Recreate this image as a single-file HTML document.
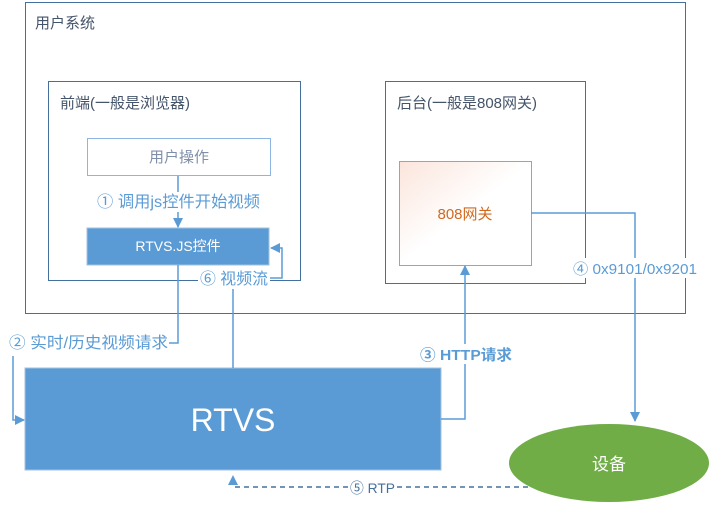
<!DOCTYPE html>
<html><head><meta charset="utf-8"><style>
body{margin:0;background:#fff;}
svg text{font-family:"Liberation Sans","Noto Sans CJK SC",sans-serif;}
</style></head><body>
<svg width="716" height="513" viewBox="0 0 716 513" xmlns="http://www.w3.org/2000/svg">
<defs>
<linearGradient id="g" x1="0" y1="0" x2="1" y2="1"><stop offset="0" stop-color="#fbe5dc"/><stop offset="0.5" stop-color="#fff"/></linearGradient>
<marker id="a" markerWidth="10" markerHeight="10" refX="9" refY="5" orient="auto" markerUnits="userSpaceOnUse"><path d="M0,0L10,5L0,10z" fill="#5b9bd5"/></marker>
</defs>
<rect x="25.5" y="2.5" width="660" height="311" fill="#fff" stroke="#44709d"/>
<text x="35" y="28" font-size="15" fill="#44546a">用户系统</text>
<rect x="48.5" y="81.5" width="252" height="199" fill="#fff" stroke="#44709d"/>
<text x="60" y="108" font-size="15" fill="#44546a">前端(一般是浏览器)</text>
<rect x="385.5" y="81.5" width="200" height="202" fill="#fff" stroke="#44709d"/>
<text x="397" y="108" font-size="15" fill="#44546a">后台(一般是808网关)</text>
<rect x="87.5" y="138.5" width="183" height="37" fill="#fff" stroke="#8eb4e3"/>
<text x="179" y="162" font-size="15" fill="#7f8fa9" text-anchor="middle">用户操作</text>
<rect x="87" y="228" width="182" height="37" fill="#5b9bd5" stroke="#a0c0e0"/>
<text x="178" y="251" font-size="14" fill="#fff" text-anchor="middle">RTVS.JS控件</text>
<rect x="399.5" y="161.5" width="132" height="104" fill="url(#g)" stroke="#e0915a"/>
<text x="465" y="219" font-size="15" fill="#d2691e" text-anchor="middle">808网关</text>
<rect x="25" y="368" width="416" height="102" fill="#5b9bd5" stroke="#a0c0e0"/>
<text x="233" y="431" font-size="32" fill="#fff" text-anchor="middle">RTVS</text>
<ellipse cx="609" cy="463" rx="100" ry="39" fill="#70ad47"/>
<text x="609" y="470" font-size="17" fill="#fff" text-anchor="middle">设备</text>
<g stroke="#5b9bd5" stroke-width="1.5" fill="none">
<path d="M178 176V192M178 212V227" marker-end="url(#a)"/>
<path d="M178 265V343H169"/>
<path d="M13 356V420H24" marker-end="url(#a)"/>
<path d="M233 368V289"/>
<path d="M269 278H282V248H271" marker-end="url(#a)"/>
<path d="M441 419H465V266" marker-end="url(#a)"/>
<path d="M531 213H635V421" marker-end="url(#a)"/>
<path d="M528 487H233V476" stroke-dasharray="5,4" stroke="#44709d" marker-end="url(#a)"/>
</g>
<g fill="#fff">
<rect x="198" y="270" width="72" height="18"/>
<rect x="418" y="344" width="96" height="20"/>
<rect x="571" y="258" width="128" height="20"/>
<rect x="348" y="479" width="48" height="18"/>
</g>
<text x="97" y="207" font-size="16" fill="#5b9bd5" textLength="163" lengthAdjust="spacingAndGlyphs">① 调用js控件开始视频</text>
<text x="9" y="348" font-size="16" fill="#5b9bd5" textLength="159" lengthAdjust="spacingAndGlyphs">② 实时/历史视频请求</text>
<text x="200" y="284" font-size="16" fill="#5b9bd5" textLength="68" lengthAdjust="spacingAndGlyphs">⑥ 视频流</text>
<text x="420" y="360" font-size="15" fill="#5b9bd5" font-weight="bold" textLength="92" lengthAdjust="spacingAndGlyphs">③ HTTP请求</text>
<text x="573" y="274" font-size="15" fill="#5b9bd5" textLength="124" lengthAdjust="spacingAndGlyphs">④ 0x9101/0x9201</text>
<text x="350" y="493" font-size="14" fill="#44709d" textLength="45" lengthAdjust="spacingAndGlyphs">⑤ RTP</text>
</svg>
</body></html>
